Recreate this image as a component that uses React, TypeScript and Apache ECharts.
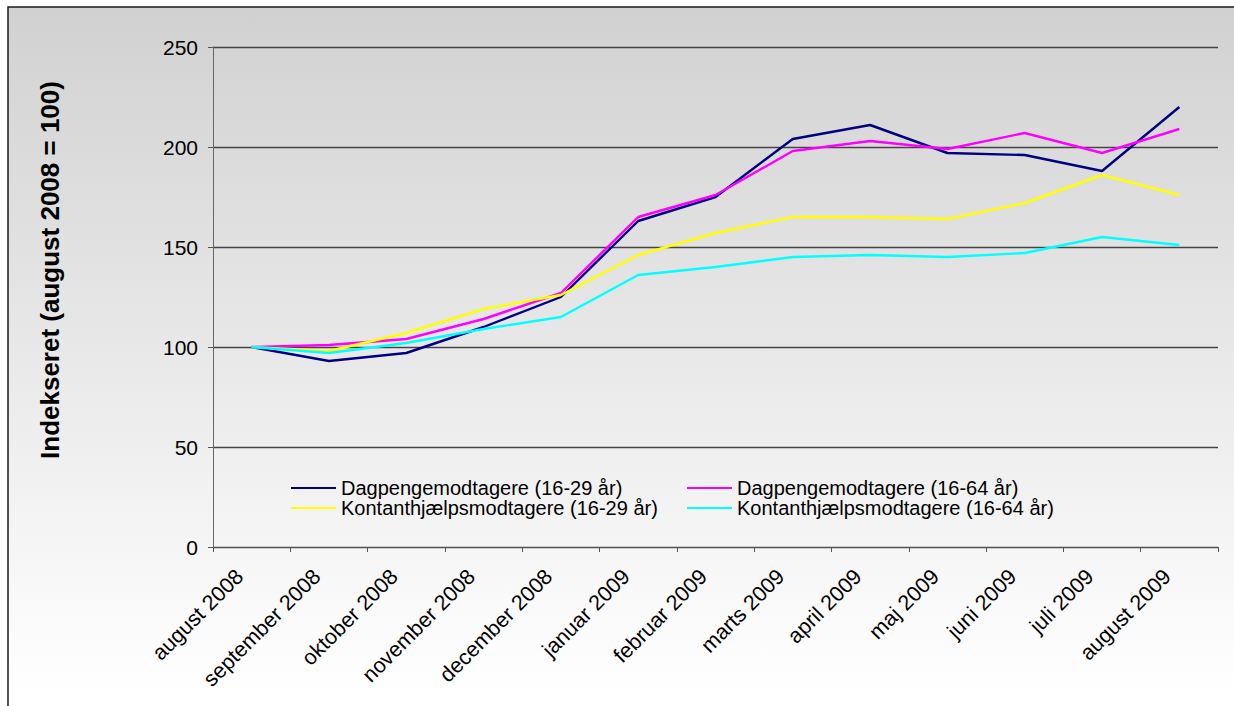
import React, { useEffect, useRef } from "react";
import * as echarts from "echarts";

const categories = [
  "august 2008", "september 2008", "oktober 2008", "november 2008", "december 2008",
  "januar 2009", "februar 2009", "marts 2009", "april 2009", "maj 2009",
  "juni 2009", "juli 2009", "august 2009",
];
const dagpenge1629 = [100, 93, 97, 110, 125, 163, 175, 204, 211, 197, 196, 188, 220];
const dagpenge1664 = [100, 101, 104, 114, 127, 165, 176, 198, 203, 199, 207, 197, 209];
const kontant1629 = [100, 98, 107, 119, 126, 146, 157, 165, 165, 164, 172, 186, 176];
const kontant1664 = [100, 97, 102, 109, 115, 136, 140, 145, 146, 145, 147, 155, 151];

const seriesNames = [
  "Dagpengemodtagere (16-29 år)",
  "Dagpengemodtagere (16-64 år)",
  "Kontanthjælpsmodtagere (16-29 år)",
  "Kontanthjælpsmodtagere (16-64 år)",
];
const seriesColors = ["#000080", "#ff00ff", "#ffff00", "#00ffff"];
const yTitle = "Indekseret (august 2008 = 100)";

const FONT = "'Liberation Sans', Arial, sans-serif";

export default function App() {
  const ref = useRef<HTMLDivElement>(null);
  useEffect(() => {
    if (!ref.current) return;
    const chart = echarts.init(ref.current, null, { renderer: "svg" });
    const values = [dagpenge1629, dagpenge1664, kontant1629, kontant1664];
    const legendCommon = {
      orient: "vertical",
      icon: "rect",
      itemWidth: 45,
      itemHeight: 2,
      itemGap: 0,
      padding: 0,
      textStyle: { fontFamily: FONT, fontSize: 20, color: "#000", lineHeight: 20 },
    };
    chart.setOption({
      animation: false,
      backgroundColor: "transparent",
      graphic: [
        {
          type: "rect",
          z: -100,
          silent: true,
          shape: { x: 8, y: 7, width: 1226, height: 699 },
          style: {
            fill: new echarts.graphic.LinearGradient(0, 0, 0, 1, [
              { offset: 0, color: "#d1d1d1" },
              { offset: 0.93, color: "#fdfdfd" },
              { offset: 1, color: "#ffffff" },
            ]),
          },
        },
        {
          type: "polyline",
          z: 100,
          silent: true,
          shape: { points: [[8, 706], [8, 7], [1234, 7]] },
          style: { stroke: "#1a1a1a", lineWidth: 1.5, fill: "none" },
        },
        {
          type: "text",
          z: 100,
          x: 50,
          y: 270,
          rotation: Math.PI / 2,
          style: {
            text: yTitle,
            font: `bold 26px ${FONT}`,
            fill: "#000",
            align: "center",
            verticalAlign: "middle",
          },
        },
      ],
      grid: { left: 213, right: 16, top: 47, bottom: 159, containLabel: false },
      legend: [
        { ...legendCommon, left: 291, top: 478, data: [seriesNames[0], seriesNames[2]] },
        { ...legendCommon, left: 687, top: 478, data: [seriesNames[1], seriesNames[3]] },
      ],
      xAxis: {
        type: "category",
        data: categories,
        boundaryGap: true,
        axisLine: { lineStyle: { color: "#555", width: 1 } },
        axisTick: { show: true, length: 5, lineStyle: { color: "#555" } },
        axisLabel: {
          rotate: 45,
          margin: 14,
          padding: [0, 17, 0, 0],
          fontFamily: FONT,
          fontSize: 21.5,
          color: "#000",
          interval: 0,
        },
        splitLine: { show: false },
      },
      yAxis: {
        type: "value",
        min: 0,
        max: 250,
        interval: 50,
        axisLine: { show: true, lineStyle: { color: "#666", width: 1 } },
        axisTick: { show: true, length: 5, lineStyle: { color: "#555" } },
        axisLabel: { margin: 15, fontFamily: FONT, fontSize: 21, color: "#000" },
        splitLine: { show: true, lineStyle: { color: "#444", width: 1.3 } },
      },
      series: values.map((v, i) => ({
        name: seriesNames[i],
        type: "line",
        data: v,
        symbol: "none",
        smooth: false,
        itemStyle: { color: seriesColors[i] },
        lineStyle: { color: seriesColors[i], width: 2.4 },
      })),
    });
    return () => chart.dispose();
  }, []);
  return (
    <div
      ref={ref}
      style={{ position: "absolute", left: 0, top: 0, width: 1234, height: 706 }}
    />
  );
}
